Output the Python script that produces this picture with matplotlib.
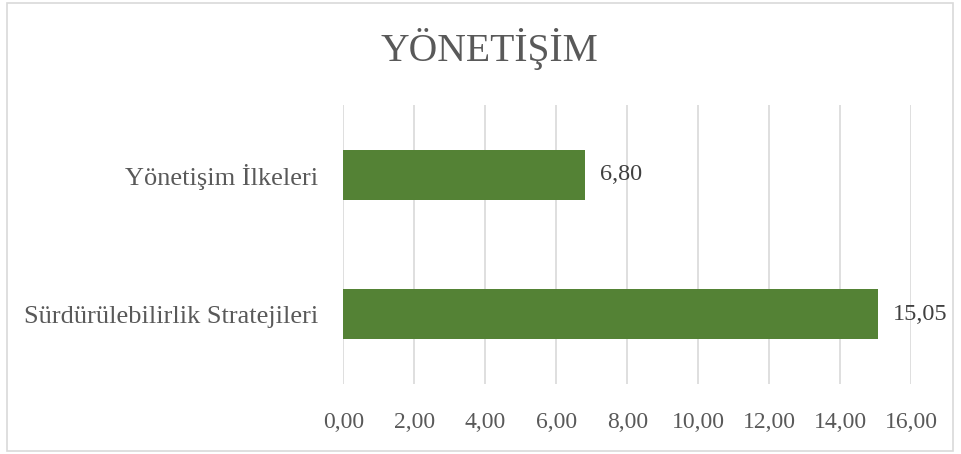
import matplotlib.pyplot as plt
from matplotlib.patches import Rectangle

# data
categories = ["Sürdürülebilirlik Stratejileri", "Yönetişim İlkeleri"]
values = [15.05, 6.80]
xticks = [0, 2, 4, 6, 8, 10, 12, 14, 16]

plt.rcParams["font.family"] = ["Liberation Serif", "DejaVu Serif"]
text_col = "#595959"

fig = plt.figure(figsize=(9.61, 4.54), dpi=100)
ax = fig.add_axes([0.3574, 0.1542, 0.591, 0.6145])

ypos = list(range(len(categories)))
bars = ax.barh(ypos, values, height=0.357, color="#548235", zorder=3)

ax.set_xlim(0, 16)
ax.set_ylim(-0.5, 1.5)
ax.set_xticks(xticks)
ax.set_xticklabels([f"{t:.2f}".replace(".", ",") for t in xticks],
                   fontsize=17, color=text_col)
ax.set_yticks(ypos)
ax.set_yticklabels(categories, fontsize=19, color=text_col)
ax.tick_params(axis="x", length=0, pad=20)
ax.tick_params(axis="y", length=0, pad=18)

ax.grid(axis="x", color="#d9d9d9", linewidth=1.2, zorder=0)
for s in ax.spines.values():
    s.set_visible(False)

# data labels
for y, v in zip(ypos, values):
    ax.annotate(f"{v:.2f}".replace(".", ","), (v, y), xytext=(15, 0),
                textcoords="offset pixels", va="center", ha="left",
                fontsize=17.5, color="#404040")

# title
fig.text(489 / 961, 1 - 49 / 454, "YÖNETİŞİM", ha="center", va="center",
         fontsize=28.5, color=text_col)

# chart border
fig.patches.append(Rectangle((7 / 961, 3 / 454), 946 / 961, 448 / 454,
                             transform=fig.transFigure, fill=False,
                             edgecolor="#d9d9d9", linewidth=1.2))

fig.savefig("out.png", dpi=100)
